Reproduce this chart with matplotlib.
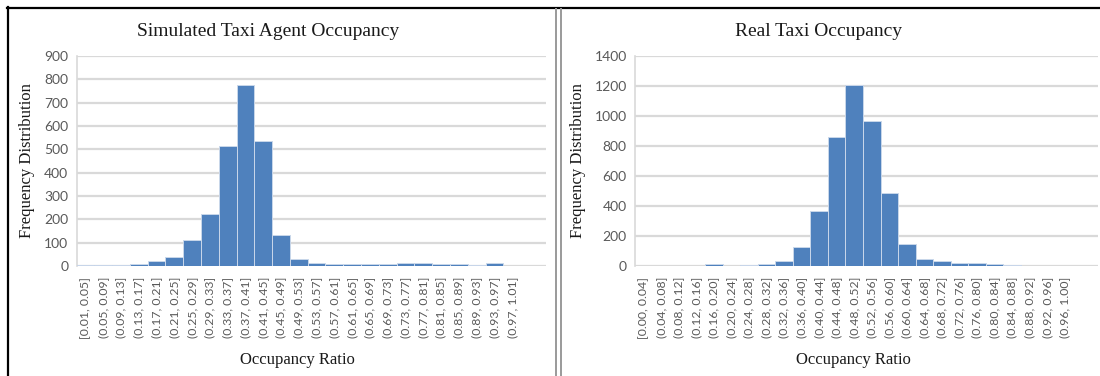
import matplotlib
matplotlib.use("Agg")
import matplotlib.pyplot as plt
from matplotlib.lines import Line2D

# Bin labels and counts for the simulated agents
sim_bins = ["[0.01, 0.05]", "(0.05, 0.09]", "(0.09, 0.13]", "(0.13, 0.17]", "(0.17, 0.21]",
            "(0.21, 0.25]", "(0.25, 0.29]", "(0.29, 0.33]", "(0.33, 0.37]", "(0.37, 0.41]",
            "(0.41, 0.45]", "(0.45, 0.49]", "(0.49, 0.53]", "(0.53, 0.57]", "(0.57, 0.61]",
            "(0.61, 0.65]", "(0.65, 0.69]", "(0.69, 0.73]", "(0.73, 0.77]", "(0.77, 0.81]",
            "(0.81, 0.85]", "(0.85, 0.89]", "(0.89, 0.93]", "(0.93, 0.97]", "(0.97, 1.01]"]
sim_counts = [6, 6, 6, 8, 22, 40, 113, 221, 515, 775, 535, 133, 30, 14, 8,
              8, 10, 10, 12, 12, 10, 8, 6, 11, 0]

# Bin labels and counts for the real taxis
real_bins = ["[0.00, 0.04]", "(0.04, 0.08]", "(0.08, 0.12]", "(0.12, 0.16]", "(0.16, 0.20]",
             "(0.20, 0.24]", "(0.24, 0.28]", "(0.28, 0.32]", "(0.32, 0.36]", "(0.36, 0.40]",
             "(0.40, 0.44]", "(0.44, 0.48]", "(0.48, 0.52]", "(0.52, 0.56]", "(0.56, 0.60]",
             "(0.60, 0.64]", "(0.64, 0.68]", "(0.68, 0.72]", "(0.72, 0.76]", "(0.76, 0.80]",
             "(0.80, 0.84]", "(0.84, 0.88]", "(0.88, 0.92]", "(0.92, 0.96]", "(0.96, 1.00]"]
real_counts = [0, 0, 0, 0, 15, 2, 8, 12, 35, 125, 370, 860, 1210, 970, 490,
               150, 50, 35, 18, 18, 12, 9, 0, 0, 0]

sim_yticks = list(range(0, 901, 100))
real_yticks = list(range(0, 1401, 200))

titles = ["Simulated Taxi Agent Occupancy", "Real Taxi Occupancy"]

W, H = 1100, 376
fig = plt.figure(figsize=(W / 100, H / 100), dpi=100)

BAR = "#4F81BD"
GRID = "#D9D9D9"
TICK = "#595959"
serif = "Liberation Serif"
sans = "Lato"


def fx(px):
    return px / W


def fy(py):
    return 1 - py / H


def panel(rect, bins, counts, yticks, title, title_x, ylab_x, xlab_x):
    ax = fig.add_axes(rect)
    x = list(range(len(bins)))
    ax.bar(x, counts, width=1.0, color=BAR, edgecolor="#C9D7EA", linewidth=0.7, zorder=3)
    ax.set_xlim(-0.5, 25.9)
    ax.set_ylim(yticks[0], yticks[-1])
    ax.set_yticks(yticks)
    ax.set_yticklabels([str(v) for v in yticks], fontfamily=sans, fontsize=10, color=TICK)
    ax.set_xticks(x)
    ax.set_xticklabels(bins, rotation=90, fontfamily=sans, fontsize=8.8, color=TICK)
    ax.tick_params(axis="both", length=0)
    ax.tick_params(axis="y", pad=6)
    ax.tick_params(axis="x", pad=8)
    ax.yaxis.grid(True, color=GRID, linewidth=1.6, zorder=0)
    ax.set_axisbelow(True)
    for s in ("top", "right", "bottom"):
        ax.spines[s].set_visible(False)
    ax.spines["left"].set_color(GRID)
    ax.spines["left"].set_linewidth(1.2)
    fig.text(fx(title_x), fy(31), title, ha="center", va="center",
             fontfamily=serif, fontsize=14, color="#1a1a1a")
    fig.text(fx(ylab_x), fy(161), "Frequency Distribution", ha="center", va="center",
             rotation=90, fontfamily=serif, fontsize=12, color="#1a1a1a")
    fig.text(fx(xlab_x), fy(360), "Occupancy Ratio", ha="center", va="center",
             fontfamily=serif, fontsize=12, color="#1a1a1a")
    return ax


panel([fx(76.5), fy(266), fx(546) - fx(76.5), fy(56) - fy(266)],
      sim_bins, sim_counts, sim_yticks, titles[0], 268, 27, 297)
panel([fx(635), fy(266), fx(1098) - fx(635), fy(56) - fy(266)],
      real_bins, real_counts, real_yticks, titles[1], 819, 578, 853)

# Outer frame and the double divider between the two panels
fig.add_artist(Line2D([fx(7), fx(1100)], [fy(8), fy(8)], color="black", linewidth=1.6))
fig.add_artist(Line2D([fx(8), fx(8)], [fy(7), fy(376)], color="black", linewidth=1.6))
for xd in (556, 561):
    fig.add_artist(Line2D([fx(xd), fx(xd)], [fy(9), fy(376)], color="#9A9A9A", linewidth=1.4))

fig.savefig("out.png", dpi=100)
